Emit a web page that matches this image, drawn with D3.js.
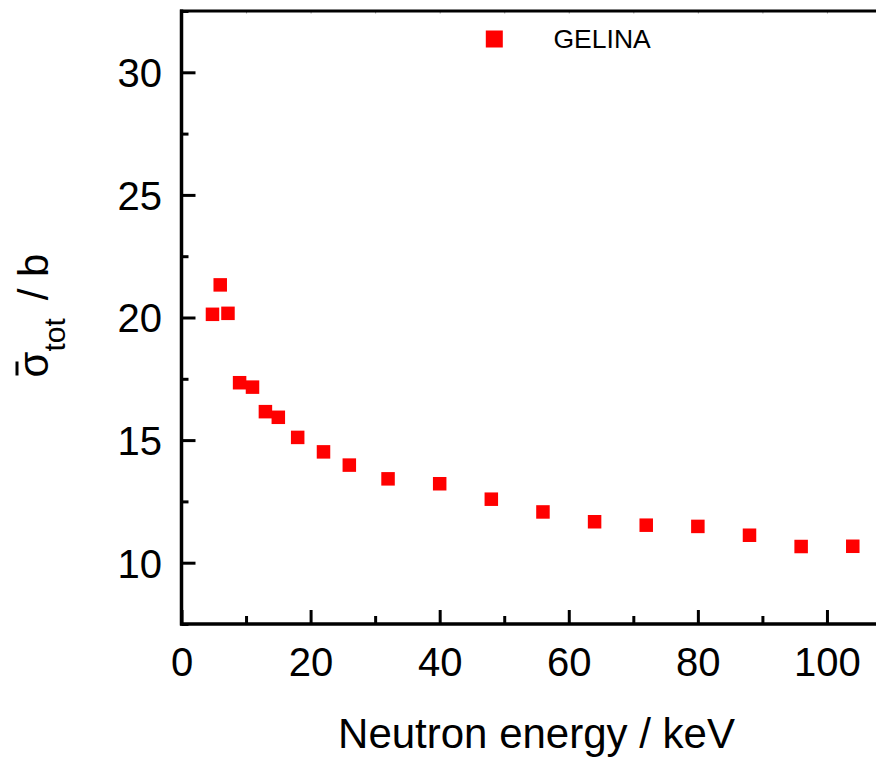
<!DOCTYPE html>
<html>
<head>
<meta charset="utf-8">
<script src="https://cdn.jsdelivr.net/npm/d3@7"></script>
<style>
  body { margin: 0; background: #fff; }
  svg { display: block; font-family: "Liberation Sans", Arial, sans-serif; }
  .tick text { font-size: 40px; fill: #000; }
</style>
</head>
<body>
<svg id="chart" width="876" height="758"></svg>
<script>
// neutron energy (keV) and averaged total cross section (b)
var energy = [4.8, 6, 7.2, 9, 11, 13, 15, 18, 22, 26, 32, 40, 48, 56, 64, 72, 80, 88, 96, 104];
var sigmaTot = [20.13, 21.33, 20.17, 17.34, 17.16, 16.16, 15.93, 15.11, 14.52, 13.98,
                13.42, 13.22, 12.59, 12.07, 11.67, 11.53, 11.48, 11.12, 10.66, 10.67];
var xMajorTicks = [0, 20, 40, 60, 80, 100];
var xMinorTicks = [10, 30, 50, 70, 90];
var yMajorTicks = [10, 15, 20, 25, 30];
var yMinorTicks = [7.5, 12.5, 17.5, 22.5, 27.5, 32.5];
var seriesName = "GELINA";

var svg = d3.select("#chart");
var plotLeft = 181.5, plotTop = 11, plotBottom = 624, plotRight = 891.5;

var x = d3.scaleLinear().domain([0, 110]).range([plotLeft, plotRight]);
var y = d3.scaleLinear().domain([7.5, 32.5]).range([plotBottom, plotTop]);

// bottom axis, ticks pointing inward
svg.append("g")
    .attr("transform", "translate(0," + plotBottom + ")")
    .call(d3.axisBottom(x).tickValues(xMajorTicks).tickSize(-14).tickPadding(23.6));
svg.append("g")
    .attr("transform", "translate(0," + plotBottom + ")")
    .call(d3.axisBottom(x).tickValues(xMinorTicks).tickSize(-8).tickFormat(""));

// left axis
var yAxis = svg.append("g")
    .attr("transform", "translate(" + plotLeft + ",0)")
    .call(d3.axisLeft(y).tickValues(yMajorTicks).tickSize(-14).tickPadding(19.5));
yAxis.selectAll("text").attr("dy", "0.36em");
svg.append("g")
    .attr("transform", "translate(" + plotLeft + ",0)")
    .call(d3.axisLeft(y).tickValues(yMinorTicks).tickSize(-7).tickFormat(""));

// faint ticks on the top edge
svg.append("g")
    .attr("transform", "translate(0," + plotTop + ")")
    .call(d3.axisTop(x).tickValues(xMajorTicks.concat(xMinorTicks)).tickSize(-2.5).tickFormat(""))
    .selectAll("line").attr("stroke", "#999").attr("stroke-width", 1);

svg.selectAll(".domain").remove();
svg.selectAll(".tick line").filter(function () { return !this.getAttribute("stroke-width"); })
    .attr("stroke", "#000").attr("stroke-width", 3);

// frame lines
svg.append("line").attr("x1", plotLeft).attr("x2", plotLeft).attr("y1", plotTop - 1.5).attr("y2", plotBottom + 1.5)
    .attr("stroke", "#000").attr("stroke-width", 3.5);
svg.append("line").attr("x1", plotLeft - 1.5).attr("x2", plotRight).attr("y1", plotBottom).attr("y2", plotBottom)
    .attr("stroke", "#000").attr("stroke-width", 3.5);
svg.append("line").attr("x1", plotLeft - 1.5).attr("x2", plotRight).attr("y1", plotTop).attr("y2", plotTop)
    .attr("stroke", "#000").attr("stroke-width", 3);

// data points
var size = 13.5;
svg.append("g").selectAll("rect")
    .data(energy)
    .enter().append("rect")
    .attr("x", function (d) { return x(d) - size / 2; })
    .attr("y", function (d, i) { return y(sigmaTot[i]) - size / 2; })
    .attr("width", size)
    .attr("height", size)
    .attr("fill", "#ff0000");

// legend
svg.append("rect").attr("x", 494.3 - 8.5).attr("y", 39 - 8.5).attr("width", 17).attr("height", 17)
    .attr("fill", "#ff0000");
svg.append("text").attr("x", 553.5).attr("y", 47.5)
    .style("font-size", "26.5px").text(seriesName);

// axis titles
svg.append("text")
    .attr("x", (plotLeft + plotRight) / 2).attr("y", 748)
    .attr("text-anchor", "middle")
    .style("font-size", "42px")
    .text("Neutron energy / keV");

var yTitle = svg.append("g").attr("transform", "translate(48,315.5) rotate(-90)");
var yText = yTitle.append("text").attr("text-anchor", "middle").style("font-size", "42px");
yText.append("tspan").text("σ");
yText.append("tspan").attr("dy", 17).style("font-size", "30px").text("tot");
yText.append("tspan").attr("dy", -17).attr("dx", 18).text("/ b");

// overbar above sigma
var s0 = yText.node().getStartPositionOfChar(0);
yTitle.append("line")
    .attr("x1", s0.x + 2).attr("x2", s0.x + 16)
    .attr("y1", -31).attr("y2", -31)
    .attr("stroke", "#000").attr("stroke-width", 3);
</script>
</body>
</html>
